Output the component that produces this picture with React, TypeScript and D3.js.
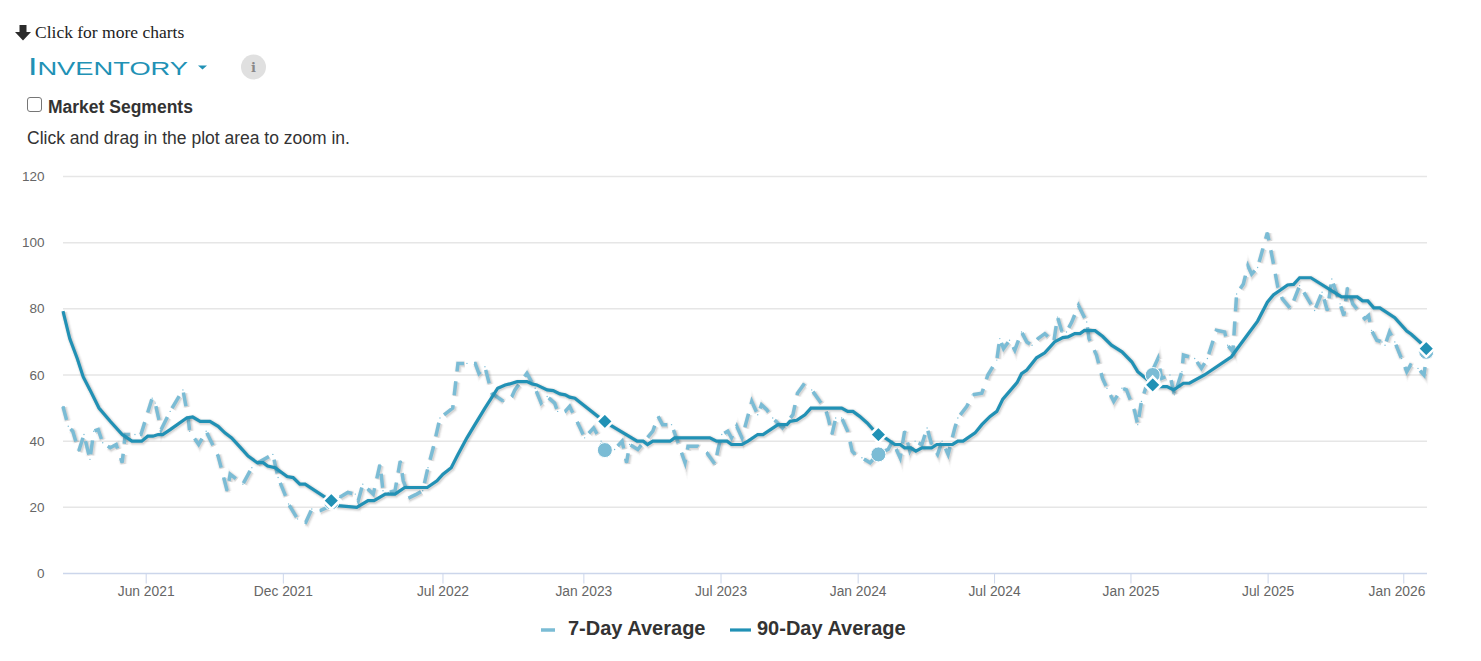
import { useRef, useEffect } from 'react';
import * as d3 from 'd3';

const WIDTH = 1481;
const HEIGHT = 661;
const MARGIN = { top: 176.5, right: 54, bottom: 87.5, left: 63 };

const START = new Date(2021, 1, 10);
const TOTAL_DAYS = 1820;

// days since START / value
const sevenDayDays = [
  0, 7, 13, 21, 28, 36, 41, 47, 53, 63, 71, 79, 83, 96, 104, 119, 123, 131, 143, 160, 167, 169, 181, 191, 207, 219, 223,
  240, 252, 260, 280, 287, 296, 301, 313, 324, 332, 343, 353, 369, 380, 390, 394, 400, 414, 423, 427, 434, 443, 450, 454,
  463, 472, 480, 487, 494, 503, 520, 527, 539, 550, 555, 563, 572, 588, 599, 603, 619, 630, 638, 646, 656, 660, 670, 676,
  690, 696, 708, 718, 722, 736, 746, 752, 756, 767, 776, 787, 794, 800, 812, 820, 830, 834, 847, 859, 870, 874, 879, 887,
  892, 899, 906, 912, 919, 927, 932, 939, 947, 960, 974, 980, 988, 999, 1010, 1017, 1021, 1026, 1031, 1039, 1047, 1053,
  1057, 1066, 1077, 1087, 1101, 1107, 1117, 1123, 1130, 1137, 1146, 1153, 1159, 1167, 1173, 1181, 1190, 1194, 1206, 1213,
  1226, 1234, 1246, 1250, 1255, 1263, 1270, 1279, 1286, 1293, 1301, 1310, 1322, 1327, 1333, 1339, 1346, 1355, 1366, 1369,
  1379, 1387, 1393, 1402, 1413, 1419, 1430, 1434, 1439, 1446, 1451, 1461, 1466, 1477, 1483, 1493, 1495, 1510, 1519, 1527,
  1534, 1539, 1550, 1554, 1561, 1566, 1575, 1581, 1586, 1594, 1607, 1614, 1621, 1627, 1638, 1650, 1657, 1670, 1680,
  1687, 1693, 1704, 1709, 1714, 1721, 1737, 1742, 1746, 1753, 1760, 1764, 1770, 1777, 1786, 1793, 1798, 1808, 1816, 1820,
];
const sevenDayValues = [
  50.5, 44.5, 43, 37, 42, 34.5, 43, 43.5, 39.5, 38, 39, 33.5, 42, 42, 42, 53, 51.5, 43.5, 49, 55.5, 47, 43, 39, 43, 35.5,
  25, 30, 27, 32, 33.5, 36, 29, 24, 21, 16.5, 15.5, 19.5, 19, 20, 23, 24.5, 24, 22, 27, 24, 33, 25, 24.5, 25, 34, 28, 23,
  24, 25, 32, 38, 47, 50, 63.5, 63.5, 63.5, 60.5, 62.5, 54.5, 52, 53.5, 55.5, 60.5, 56, 51.5, 53.5, 51.5, 49, 49, 50.5,
  44, 41, 44, 40, 37, 37.5, 40, 33.5, 39, 37.5, 40, 43, 47.5, 45, 45, 40, 33.5, 38.5, 38.5, 36.5, 33, 37.5, 42, 43, 41,
  44.5, 41, 46, 52, 48, 51, 49.5, 47, 44, 48, 54.5, 57, 55.5, 52, 50, 47, 42, 47, 47, 43, 37, 36, 35, 33.5, 36, 37.5, 40,
  35, 43, 37, 40, 39, 44, 39, 36, 40, 36, 44, 47, 50.5, 54, 54.5, 60, 64.5, 71, 68, 70.5, 67.5, 73, 70, 69, 71, 72.5, 70,
  77.5, 73, 73, 76, 81, 76, 71, 66, 59, 56, 52, 56, 55.5, 49, 45, 52, 57, 60, 65, 59, 60, 54, 61, 66, 65, 62, 65, 70,
  73.5, 73, 69, 67, 84.5, 87.5, 93, 90.5, 92.5, 103, 95, 86.5, 83, 80, 87, 84.5, 79.5, 85, 79.5, 89, 81.5, 78, 86.5,
  81.5, 77, 78, 73.5, 70.5, 70, 69, 73, 70, 65, 61, 63, 62, 60, 67,
];

const ninetyDayDays = [
  0, 9, 19, 27, 36, 48, 63, 79, 92, 105, 113, 120, 127, 133, 143, 165, 173, 183, 196, 207, 216, 225, 239, 247, 259, 267,
  273, 283, 299, 307, 316, 323, 350, 357, 367, 392, 407, 415, 430, 443, 456, 486, 499, 507, 518, 527, 539, 547, 563, 580,
  590, 596, 606, 619, 626, 632, 646, 654, 663, 670, 676, 683, 722, 766, 774, 780, 787, 810, 816, 863, 872, 886, 892, 906,
  914, 927, 934, 954, 966, 970, 979, 990, 998, 1039, 1047, 1054, 1063, 1073, 1087, 1097, 1110, 1117, 1123, 1131, 1138,
  1146, 1159, 1166, 1187, 1194, 1201, 1217, 1226, 1237, 1246, 1254, 1273, 1279, 1286, 1299, 1310, 1323, 1334, 1341, 1350,
  1357, 1363, 1377, 1387, 1399, 1413, 1426, 1434, 1453, 1463, 1473, 1482, 1495, 1503, 1523, 1559, 1567, 1581, 1594, 1607,
  1615, 1634, 1642, 1650, 1665, 1706, 1727, 1734, 1741, 1749, 1757, 1777, 1793, 1799, 1820,
];
const ninetyDayValues = [
  79.3, 71, 65, 59.4, 55.5, 50, 46, 42, 40, 40, 41.5, 41.5, 42, 42, 43.5, 47, 47.3, 46, 46, 44.5, 42.5, 41, 37.5, 35.5,
  33.5, 33.5, 32.5, 32, 29.3, 29, 27, 27, 23, 22, 20.5, 20, 22, 22, 24, 24, 26, 26, 28, 30, 32, 36, 41, 44, 50, 56, 57,
  57.3, 58, 58, 57.3, 57, 55.5, 55.3, 54.3, 54, 53.3, 53, 46, 40, 40, 39, 40, 40, 41, 41, 40, 40, 39, 39, 40, 42, 42, 45,
  45, 46, 46.3, 48, 50, 50, 49, 49, 47.5, 45.5, 42, 41, 39, 39, 38, 38, 37, 38, 38, 39, 39, 40, 40, 42.5, 45, 47.5, 49,
  52.7, 57.7, 60.4, 61.5, 65.2, 66.7, 70, 71.3, 71.5, 72.5, 72.5, 73.5, 73.4, 71.7, 69, 67, 64, 61, 57.5, 56.5, 56.5,
  55.5, 57.5, 57.5, 60, 65.5, 68, 72.3, 76.3, 82, 84.2, 87.2, 87.4, 89.4, 89.4, 83.6, 83.6, 82.4, 82.4, 80.3, 80.3, 77.3,
  73.3, 72.3, 68,
];

// year-over-year comparison markers
const markerDates = ['2022-02-03', '2023-02-03', '2024-02-03', '2025-02-03', '2026-02-03'];
const markerSevenDay = [21.5, 37.3, 36, 60, 67];
const markerNinetyDay = [22, 46, 42, 57, 68];

const yTicks = [0, 20, 40, 60, 80, 100, 120];
const xTickDates = [
  '2021-06-01', '2021-12-01', '2022-07-02', '2023-01-06', '2023-07-08',
  '2024-01-07', '2024-07-07', '2025-01-05', '2025-07-07', '2026-01-04',
];
const xTickLabels = [
  'Jun 2021', 'Dec 2021', 'Jul 2022', 'Jan 2023', 'Jul 2023',
  'Jan 2024', 'Jul 2024', 'Jan 2025', 'Jul 2025', 'Jan 2026',
];

const LIGHT = '#7bbcd5';
const DARK = '#2191b5';
const SANS = '"Liberation Sans", Arial, sans-serif';
const parseDate = d3.timeParse('%Y-%m-%d');

export default function App() {
  const svgRef = useRef<SVGSVGElement>(null);

  useEffect(() => {
    const svg = d3.select(svgRef.current);
    svg.selectAll('*').remove();

    const x = d3
      .scaleTime()
      .domain([START, d3.timeDay.offset(START, TOTAL_DAYS)])
      .range([MARGIN.left, WIDTH - MARGIN.right]);
    const y = d3
      .scaleLinear()
      .domain([0, 120])
      .range([HEIGHT - MARGIN.bottom, MARGIN.top]);

    // Header
    svg
      .append('path')
      .attr('d', 'M19.5 25h7v7h4.5l-8 8.5-8-8.5h4.5z')
      .attr('fill', '#2b2b2b');
    svg
      .append('text')
      .attr('x', 35)
      .attr('y', 38)
      .attr('font-family', '"Liberation Serif", serif')
      .attr('font-size', 17.5)
      .attr('fill', '#222')
      .text('Click for more charts');

    const title = svg
      .append('text')
      .attr('x', 28)
      .attr('y', 75)
      .attr('font-family', SANS)
      .attr('fill', DARK)
      .attr('textLength', 160)
      .attr('lengthAdjust', 'spacingAndGlyphs');
    title.append('tspan').attr('font-size', 23).text('I');
    title.append('tspan').attr('font-size', 18.5).text('NVENTORY');
    svg.append('path').attr('d', 'M198 65.5h9l-4.5 4z').attr('fill', DARK);

    svg.append('circle').attr('cx', 253.5).attr('cy', 67).attr('r', 12.5).attr('fill', '#e0e0e0');
    svg
      .append('text')
      .attr('x', 253.5)
      .attr('y', 72)
      .attr('text-anchor', 'middle')
      .attr('font-family', '"DejaVu Serif", serif')
      .attr('font-weight', 700)
      .attr('font-size', 13)
      .attr('fill', '#888')
      .text('i');

    svg
      .append('rect')
      .attr('x', 27.5)
      .attr('y', 97.5)
      .attr('width', 14)
      .attr('height', 14)
      .attr('rx', 2.5)
      .attr('fill', '#fff')
      .attr('stroke', '#767676');
    svg
      .append('text')
      .attr('x', 48)
      .attr('y', 113)
      .attr('font-family', SANS)
      .attr('font-weight', 700)
      .attr('font-size', 17.5)
      .attr('fill', '#333')
      .text('Market Segments');
    svg
      .append('text')
      .attr('x', 27)
      .attr('y', 144)
      .attr('font-family', SANS)
      .attr('font-size', 17.5)
      .attr('fill', '#333')
      .text('Click and drag in the plot area to zoom in.');

    // Grid and y labels
    yTicks.forEach((t) => {
      if (t > 0) {
        svg
          .append('line')
          .attr('x1', x.range()[0])
          .attr('x2', x.range()[1])
          .attr('y1', y(t))
          .attr('y2', y(t))
          .attr('stroke', '#e6e6e6')
          .attr('stroke-width', 1.5);
      }
      svg
        .append('text')
        .attr('x', 44.5)
        .attr('y', y(t) + 4.5)
        .attr('text-anchor', 'end')
        .attr('font-family', SANS)
        .attr('font-size', 13.5)
        .attr('fill', '#666')
        .text(t);
    });

    // X axis
    svg
      .append('line')
      .attr('x1', x.range()[0])
      .attr('x2', x.range()[1])
      .attr('y1', y(0))
      .attr('y2', y(0))
      .attr('stroke', '#ccd6eb')
      .attr('stroke-width', 1.5);
    xTickDates.forEach((d, i) => {
      const tx = x(parseDate(d)!);
      svg
        .append('line')
        .attr('x1', tx)
        .attr('x2', tx)
        .attr('y1', y(0))
        .attr('y2', y(0) + 10)
        .attr('stroke', '#ccd6eb');
      svg
        .append('text')
        // last label is pushed back inside the plot
        .attr('x', Math.min(tx, x.range()[1] - 30))
        .attr('y', 596)
        .attr('text-anchor', 'middle')
        .attr('font-family', SANS)
        .attr('font-size', 13.8)
        .attr('fill', '#666')
        .text(xTickLabels[i]);
    });

    const line = d3
      .line<[number, number]>()
      .x((d) => x(d3.timeDay.offset(START, d[0])))
      .y((d) => y(d[1]));
    const sevenDay = sevenDayDays.map((d, i) => [d, sevenDayValues[i]] as [number, number]);
    const ninetyDay = ninetyDayDays.map((d, i) => [d, ninetyDayValues[i]] as [number, number]);

    // Series with the soft offset shadow
    function drawSeries(data: [number, number][], color: string, width: number, dash: string | null) {
      [
        [5, 0.02],
        [3, 0.05],
        [1, 0.09],
      ].forEach(([extra, opacity]) => {
        svg
          .append('path')
          .attr('d', line(data))
          .attr('transform', 'translate(1,1)')
          .attr('fill', 'none')
          .attr('stroke', '#000')
          .attr('stroke-opacity', opacity)
          .attr('stroke-width', width + extra)
          .attr('stroke-dasharray', dash)
          .attr('stroke-linejoin', 'miter');
      });
      svg
        .append('path')
        .attr('d', line(data))
        .attr('fill', 'none')
        .attr('stroke', color)
        .attr('stroke-width', width)
        .attr('stroke-dasharray', dash)
        .attr('stroke-linejoin', 'miter');
    }

    drawSeries(sevenDay, LIGHT, 3.5, '14 10');
    // tiny point markers show through the dash gaps
    sevenDay.forEach((d) => {
      svg
        .append('circle')
        .attr('cx', line.x()(d, 0, sevenDay))
        .attr('cy', line.y()(d, 0, sevenDay))
        .attr('r', 0.7)
        .attr('fill', LIGHT);
    });
    drawSeries(ninetyDay, DARK, 3.2, null);

    // Markers
    markerDates.forEach((d, i) => {
      const mx = x(parseDate(d)!);
      svg
        .append('circle')
        .attr('cx', mx)
        .attr('cy', y(markerSevenDay[i]))
        .attr('r', 7.5)
        .attr('fill', LIGHT)
        .attr('stroke', '#fff')
        .attr('stroke-width', 1);
      svg
        .append('path')
        .attr('d', d3.symbol(d3.symbolDiamond2, 175)())
        .attr('transform', `translate(${mx},${y(markerNinetyDay[i])})`)
        .attr('fill', DARK)
        .attr('stroke', '#fff')
        .attr('stroke-width', 2.5);
    });

    // Legend
    svg
      .append('line')
      .attr('x1', 541)
      .attr('x2', 555)
      .attr('y1', 630)
      .attr('y2', 630)
      .attr('stroke', LIGHT)
      .attr('stroke-width', 3.5);
    svg
      .append('line')
      .attr('x1', 730)
      .attr('x2', 751)
      .attr('y1', 630)
      .attr('y2', 630)
      .attr('stroke', DARK)
      .attr('stroke-width', 3.2);
    [
      ['7-Day Average', 568],
      ['90-Day Average', 757],
    ].forEach(([label, lx]) => {
      svg
        .append('text')
        .attr('x', lx)
        .attr('y', 635)
        .attr('font-family', SANS)
        .attr('font-weight', 700)
        .attr('font-size', 20)
        .attr('fill', '#333')
        .text(label);
    });
  }, []);

  return (
    <svg
      ref={svgRef}
      width={WIDTH}
      height={HEIGHT}
      style={{ position: 'absolute', left: 0, top: 0, background: '#fff' }}
    />
  );
}
